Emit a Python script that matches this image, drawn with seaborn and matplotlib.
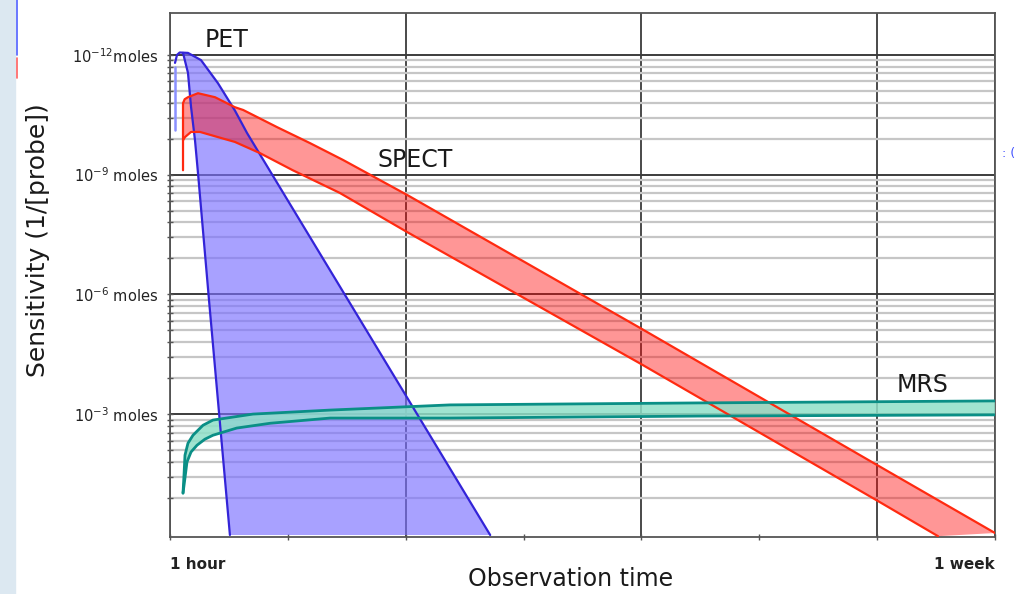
import numpy as np
import matplotlib
matplotlib.use("Agg")
import matplotlib.pyplot as plt
import seaborn as sns
from matplotlib.ticker import FixedLocator, NullFormatter
from matplotlib.patches import Rectangle
from matplotlib.lines import Line2D

# ---------------- data (time in hours, sensitivity as exponent of 1/[probe]) ----------------
pet_stub_h = [0.96, 0.96]
pet_stub_e = [10.12, 11.70]
pet_upper_h = [1.02, 1.43, 1.97, 3.66, 6.31, 9.77, 13.2, 15.7, 24.0, 48.3, 65.2]
pet_upper_e = [11.80, 12.0, 12.06, 12.05, 11.87, 11.29, 10.61, 10.04, 8.35, 3.41, -0.03]
pet_lower_h = [2.65, 3.66, 4.28, 5.09, 5.70, 7.94, 12.2]
pet_lower_e = [12.05, 11.55, 10.70, 9.86, 9.04, 5.86, -0.03]

spect_upper_h = [2.65, 2.65, 2.99, 3.66, 5.70, 9.16, 13.2, 14.9, 21.8, 28.5, 35.2, 48.3, 95.7, 144.6, 168.0]
spect_upper_e = [9.11, 10.79, 10.89, 10.94, 11.04, 10.94, 10.69, 10.62, 10.19, 9.79, 9.37, 8.49, 5.16, 1.68, 0.02]
spect_lower_h = [2.65, 3.05, 4.28, 6.11, 9.77, 13.2, 18.3, 25.0, 34.6, 48.3, 95.7, 144.6, 156.4]
spect_lower_e = [9.86, 9.94, 10.07, 10.07, 9.94, 9.82, 9.54, 9.11, 8.54, 7.56, 4.27, 0.79, -0.06]

mrs_upper_h = [2.65, 2.85, 3.05, 3.66, 4.68, 6.72, 8.75, 16.9, 32.6, 57.0, 107.9, 168.0]
mrs_upper_e = [1.02, 1.47, 1.97, 2.27, 2.47, 2.72, 2.85, 3.0, 3.10, 3.23, 3.28, 3.33]
mrs_lower_h = [2.65, 3.05, 3.46, 4.28, 5.50, 7.10, 8.75, 13.6, 20.4, 32.6, 57.0, 107.9, 168.0]
mrs_lower_e = [1.02, 1.40, 1.80, 2.05, 2.22, 2.37, 2.47, 2.65, 2.77, 2.90, 2.90, 2.95, 2.98]

y_major_vals = [1e3, 1e6, 1e9, 1e12]
y_major_labels = [r"10$^{-3}$ moles", r"10$^{-6}$ moles", r"10$^{-9}$ moles", r"10$^{-12}$moles"]
x_tick_vals = [0, 48, 96, 144, 168]
x_tick_labels = ["1 hour", "", "", "", "1 week"]
x_minor_vals = [24, 72, 120]

# ---------------- figure ----------------
sns.set_theme(style="white")
plt.rcParams["font.family"] = ["DejaVu Sans"]

fig = plt.figure(figsize=(10.30, 5.94), dpi=100)
ax = fig.add_axes([170 / 1030, 1 - 537 / 594, 825 / 1030, 524 / 594])

# screenshot side strip
fig.patches.append(Rectangle((0, 0), 15 / 1030, 1, transform=fig.transFigure,
                             color="#dce8f1", zorder=0))
fig.lines.append(Line2D([17 / 1030, 17 / 1030], [1, 1 - 55 / 594], transform=fig.transFigure,
                        color="#5060ff", lw=1.2))
fig.lines.append(Line2D([17 / 1030, 17 / 1030], [1 - 58 / 594, 1 - 78 / 594], transform=fig.transFigure,
                        color="#ff6060", lw=1.2))

def sens(e):
    return np.power(10.0, np.asarray(e, dtype=float))

ax.set_yscale("log")
ax.set_xlim(0, 168)
ax.set_ylim(10 ** -0.08, 10 ** 13.05)

# grid
minor_vals = [k ** 3 * 1000.0 ** n for n in range(4) for k in range(2, 10)]
ax.yaxis.set_major_locator(FixedLocator(y_major_vals))
ax.yaxis.set_minor_locator(FixedLocator(minor_vals))
ax.yaxis.set_minor_formatter(NullFormatter())
ax.set_yticklabels(y_major_labels)
ax.set_xticks(x_tick_vals)
ax.set_xticklabels(x_tick_labels)
ax.set_xticks(x_minor_vals, minor=True)
ax.set_axisbelow(True)
ax.yaxis.grid(True, which="minor", color="#c6c6c6", lw=1.6)
ax.yaxis.grid(True, which="major", color="#3c3c3c", lw=1.4)
ax.xaxis.grid(True, which="major", color="#4a4a4a", lw=1.4)
ax.xaxis.grid(False, which="minor")

xl = ax.get_xticklabels()
xl[0].set_ha("left")
xl[-1].set_ha("right")
for lab in xl:
    lab.set_fontweight("bold")
ax.tick_params(axis="x", which="both", direction="inout", length=5, width=1, color="#555555",
               labelsize=11, pad=12, bottom=True)
ax.tick_params(axis="y", which="both", direction="inout", length=5, width=1, color="#555555",
               labelsize=10.5, pad=6, left=True)
for lab in ax.get_xticklabels() + ax.get_yticklabels():
    lab.set_color("#222222")

for s in ax.spines.values():
    s.set_color("#555555")
    s.set_linewidth(1.3)

# PET
pet_poly_h = pet_upper_h[2:] + pet_lower_h[::-1]
pet_poly_e = pet_upper_e[2:] + pet_lower_e[::-1]
ax.fill(pet_poly_h, sens(pet_poly_e), color="#7a6fff", alpha=0.65, lw=0, zorder=2)
# SPECT
sp_poly_h = spect_upper_h[1:] + spect_lower_h[::-1]
sp_poly_e = spect_upper_e[1:] + spect_lower_e[::-1]
ax.fill(sp_poly_h, sens(sp_poly_e), color="#ff0505", alpha=0.42, lw=0, zorder=3)
# MRS
mrs_poly_h = mrs_upper_h + mrs_lower_h[::-1]
mrs_poly_e = mrs_upper_e + mrs_lower_e[::-1]
ax.fill(mrs_poly_h, sens(mrs_poly_e), color="#8fe0c8", alpha=0.85, lw=0, zorder=4)

kw = dict(sort=False, estimator=None, ax=ax, legend=False)
sns.lineplot(x=pet_stub_h, y=sens(pet_stub_e), color="#8a90ff", lw=1.8, zorder=5, **kw)
sns.lineplot(x=pet_upper_h, y=sens(pet_upper_e), color="#3324d8", lw=1.6, zorder=5, **kw)
sns.lineplot(x=pet_lower_h, y=sens(pet_lower_e), color="#3324d8", lw=1.6, zorder=5, **kw)
sns.lineplot(x=spect_upper_h, y=sens(spect_upper_e), color="#ff2a10", lw=1.6, zorder=6, **kw)
sns.lineplot(x=spect_lower_h, y=sens(spect_lower_e), color="#ff2a10", lw=1.6, zorder=6, **kw)
sns.lineplot(x=mrs_upper_h, y=sens(mrs_upper_e), color="#0a8f86", lw=2.0, zorder=7, **kw)
sns.lineplot(x=mrs_lower_h, y=sens(mrs_lower_e), color="#0a8f86", lw=2.0, zorder=7, **kw)

# annotations
ax.text(7.0, sens(12.37), "PET", fontsize=17, color="#1a1a1a", va="center", ha="left")
ax.text(42.3, sens(9.36), "SPECT", fontsize=17, color="#1a1a1a", va="center", ha="left")
ax.text(148.0, sens(3.73), "MRS", fontsize=17, color="#1a1a1a", va="center", ha="left")

ax.set_xlabel("Observation time", fontsize=17, color="#1a1a1a")
ax.xaxis.set_label_coords(0.486, -0.057)
ax.set_ylabel("Sensitivity (1/[probe])", fontsize=18, color="#1a1a1a")
ax.yaxis.set_label_coords(-0.145, 0.567)

fig.text(1002 / 1030, 1 - 153 / 594, ": (", color="#4050ff", fontsize=9, va="center", ha="left")

fig.savefig("out.png", dpi=100)
